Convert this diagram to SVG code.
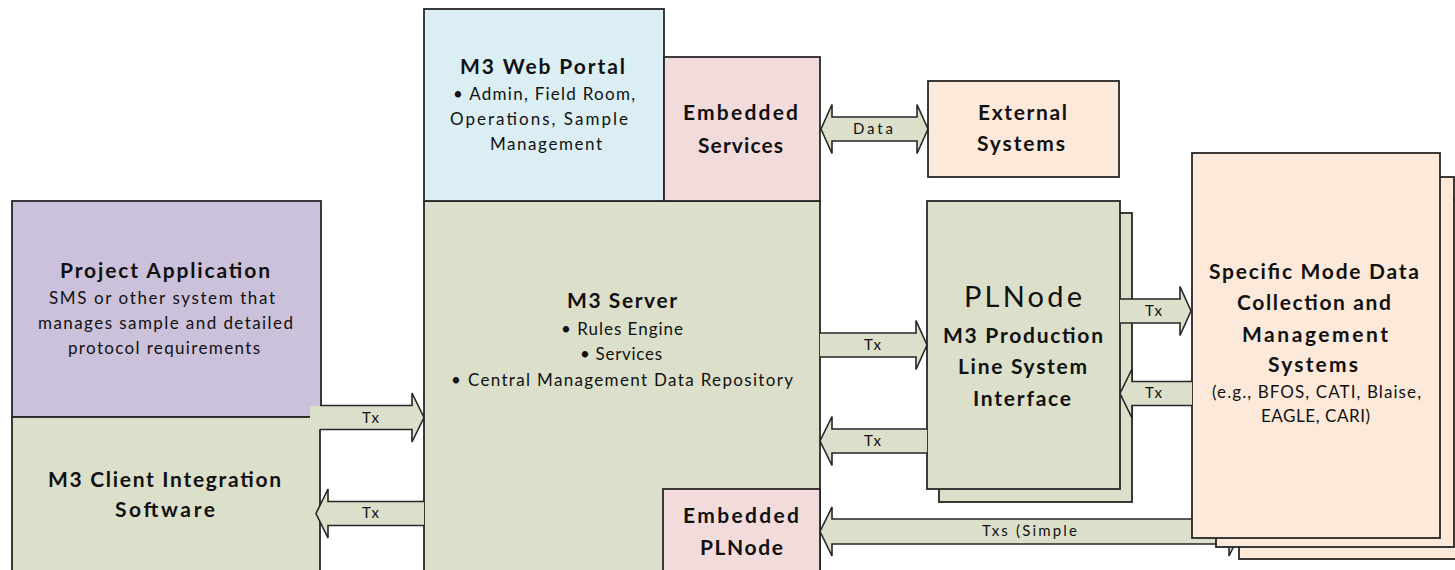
<svg xmlns="http://www.w3.org/2000/svg" width="1455" height="570" viewBox="0 0 1455 570">
  <style>
    .box{stroke:#262626;stroke-width:1.8}
    .blue{fill:#DAEEF3}
    .pink{fill:#F2DCDB}
    .green{fill:#DCE0CB}
    .purple{fill:#CCC1DA}
    .peach{fill:#FDE9D9}
    .arrow{fill:#DCE0CB;stroke:#262626;stroke-width:1.6;stroke-linejoin:miter}
    text{font-family:Lato,"Open Sans","Liberation Sans",sans-serif;fill:#111}
    .t{font-weight:bold;font-size:21px}
    .b{font-size:17px}
    .big{font-size:29px}
    .lbl{font-size:15px}
  </style>

  <rect width="1455" height="570" fill="#ffffff"/>

  <!-- central server with its web portal and embedded parts -->
  <g id="m3-server">
    <rect class="box green" x="424" y="201" width="396" height="380"/>
    <text class="t" x="567" y="308" textLength="110">M3 Server</text>
    <text class="b" x="561" y="335" textLength="122">• Rules Engine</text>
    <text class="b" x="580" y="360" textLength="82">• Services</text>
    <text class="b" x="451" y="386" textLength="342">• Central Management Data Repository</text>
  </g>

  <g id="web-portal">
    <rect class="box blue" x="424" y="9" width="240" height="192"/>
    <text class="t" x="460" y="74" textLength="165">M3 Web Portal</text>
    <text class="b" x="453" y="100" textLength="182">• Admin, Field Room,</text>
    <text class="b" x="450" y="125" textLength="178">Operations, Sample</text>
    <text class="b" x="490" y="150" textLength="112">Management</text>
  </g>

  <g id="embedded-services">
    <rect class="box pink" x="664" y="57" width="156" height="144"/>
    <text class="t" x="683" y="120" textLength="115">Embedded</text>
    <text class="t" x="698" y="153" textLength="85">Services</text>
  </g>

  <g id="embedded-plnode">
    <rect class="box pink" x="663" y="489" width="157" height="92"/>
    <text class="t" x="683" y="523" textLength="116">Embedded</text>
    <text class="t" x="700" y="555" textLength="83">PLNode</text>
  </g>

  <!-- client side -->
  <g id="project-application">
    <rect class="box purple" x="12" y="201" width="309" height="216"/>
    <text class="t" x="60" y="278" textLength="210">Project Application</text>
    <text class="b" x="49" y="304" textLength="226">SMS or other system that</text>
    <text class="b" x="38" y="329" textLength="255">manages sample and detailed</text>
    <text class="b" x="68" y="354" textLength="192">protocol requirements</text>
  </g>

  <g id="client-integration">
    <rect class="box green" x="12" y="417" width="308" height="164"/>
    <text class="t" x="48" y="487" textLength="233">M3 Client Integration</text>
    <text class="t" x="115" y="517" textLength="100">Software</text>
  </g>

  <g id="external-systems">
    <rect class="box peach" x="928" y="81" width="191" height="96"/>
    <text class="t" x="978" y="120" textLength="89">External</text>
    <text class="t" x="977" y="151" textLength="88">Systems</text>
  </g>

  <g id="plnode">
    <rect class="box green" x="939" y="213" width="193" height="289"/>
    <rect class="box green" x="927" y="201" width="193" height="288"/>
    <text class="big" x="964" y="307" textLength="118">PLNode</text>
    <text class="t" x="943" y="343" textLength="160">M3 Production</text>
    <text class="t" x="958" y="374" textLength="129">Line System</text>
    <text class="t" x="973" y="406" textLength="98">Interface</text>
  </g>

  <!-- connectors: block arrows, tails left open -->
  <g id="connectors">
    <!-- long link from the mode systems, running behind their boxes -->
    <path class="arrow" d="M820,531.5 L832,507 L832,519 L1229,519 L1229,507 L1241,531.5 L1229,556 L1229,544 L832,544 L832,556 Z"/>
    <text class="lbl" x="982" y="536" textLength="95">Txs (Simple</text>
  </g>

  <g id="mode-systems">
    <rect class="box peach" x="1239" y="200" width="250" height="359"/>
    <rect class="box peach" x="1216" y="177" width="238" height="370"/>
    <rect class="box peach" x="1192" y="153" width="248" height="385"/>
    <text class="t" x="1209" y="279" textLength="210">Specific Mode Data</text>
    <text class="t" x="1237" y="310" textLength="154">Collection and</text>
    <text class="t" x="1242" y="342" textLength="146">Management</text>
    <text class="t" x="1268" y="372" textLength="90">Systems</text>
    <text class="b" x="1212" y="398" textLength="209">(e.g., BFOS, CATI, Blaise,</text>
    <text class="b" x="1261" y="422" textLength="109">EAGLE, CARI)</text>
  </g>

  <g id="connectors-front">
    <!-- portal services to external systems -->
    <path class="arrow" d="M821,129 L832,104.5 L832,117 L917,117 L917,104.5 L928,129 L917,153.5 L917,141 L832,141 L832,153.5 Z"/>
    <text class="lbl" x="853" y="134" textLength="40">Data</text>

    <!-- project application to server -->
    <rect x="310" y="405.8" width="11" height="23.4" fill="#DCE0CB"/>
    <path class="arrow" d="M320,405.5 L412,405.5 L412,393 L424,417.5 L412,442 L412,429.5 L320,429.5"/>
    <text class="lbl" x="362" y="423" textLength="17">Tx</text>

    <!-- server to client software -->
    <path class="arrow" d="M424,501.5 L328,501.5 L328,489 L316,513.5 L328,538 L328,525.5 L424,525.5"/>
    <text class="lbl" x="362" y="518" textLength="17">Tx</text>

    <!-- server to PLNode -->
    <path class="arrow" d="M820,333 L916,333 L916,320.5 L927,345 L916,369.5 L916,357 L820,357"/>
    <text class="lbl" x="864" y="350" textLength="17">Tx</text>

    <!-- PLNode to server -->
    <path class="arrow" d="M927,429 L832,429 L832,416.5 L820,441 L832,465.5 L832,453 L927,453"/>
    <text class="lbl" x="864" y="446" textLength="17">Tx</text>

    <!-- PLNode to mode systems -->
    <path class="arrow" d="M1120,299 L1180,299 L1180,286.5 L1191,311 L1180,335.5 L1180,323 L1120,323"/>
    <text class="lbl" x="1145" y="316" textLength="17">Tx</text>

    <!-- mode systems to PLNode -->
    <path class="arrow" d="M1192,381.5 L1132,381.5 L1132,369 L1120,393.5 L1132,418 L1132,405.5 L1192,405.5"/>
    <text class="lbl" x="1145" y="398" textLength="17">Tx</text>
  </g>
</svg>
